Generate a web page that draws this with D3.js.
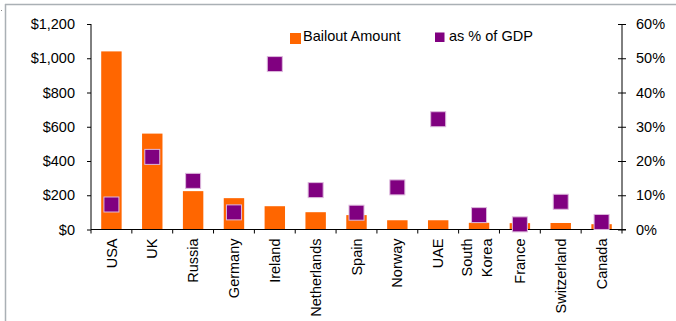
<!DOCTYPE html>
<html>
<head>
<meta charset="utf-8">
<script src="https://cdn.jsdelivr.net/npm/d3@7"></script>
<style>
  html, body { margin: 0; padding: 0; background: #fff; }
  svg { display: block; font-family: "Liberation Sans", Arial, sans-serif; }
</style>
</head>
<body>
<svg id="chart" width="676" height="321"></svg>
<script>
// Bailout packages by country: amount (US$ bn) and size relative to GDP (%)
const categories = ["USA", "UK", "Russia", "Germany", "Ireland", "Netherlands", "Spain",
                    "Norway", "UAE", "South Korea", "France", "Switzerland", "Canada"];
const bailoutAmount = [1040, 560, 224, 183, 136, 101, 84, 54, 54, 39, 37, 38, 31];
const pctOfGdp = [7.3, 21.2, 14.2, 5.0, 48.3, 11.5, 4.9, 12.3, 32.2, 4.2, 1.5, 8.1, 2.2];
const leftTicks = [0, 200, 400, 600, 800, 1000, 1200];
const rightTicks = [0, 10, 20, 30, 40, 50, 60];
const seriesNames = ["Bailout Amount", "as % of GDP"];

const ORANGE = "#FF6600";
const PURPLE = "#800080";

const svg = d3.select("#chart");
const plotLeft = 91, plotRight = 622, plotTop = 24, plotBottom = 229.5;

// outer frame (top and left edges)
svg.append("line").attr("x1", 5).attr("x2", 676).attr("y1", 4.5).attr("y2", 4.5)
  .attr("stroke", "#aab0b5").attr("stroke-width", 1.5);
svg.append("line").attr("x1", 5.5).attr("x2", 5.5).attr("y1", 4).attr("y2", 321)
  .attr("stroke", "#aab0b5").attr("stroke-width", 1.5);
svg.append("rect").attr("x", 1).attr("y", 10).attr("width", 1).attr("height", 1).attr("fill", "#888");

const x = d3.scaleBand().domain(categories).range([plotLeft, plotRight])
  .paddingInner(0.5).paddingOuter(0.25);
const step = x.step();
const yL = d3.scaleLinear().domain([0, 1200]).range([plotBottom, plotTop]);
const yR = d3.scaleLinear().domain([0, 60]).range([plotBottom, plotTop]);

const fontSize = "14.5px";

// left axis
const axL = svg.append("g").attr("transform", `translate(${plotLeft},0)`)
  .call(d3.axisLeft(yL).tickValues(leftTicks).tickSize(4).tickPadding(12)
    .tickFormat(d => "$" + d3.format(",")(d)));
axL.selectAll("text").attr("font-size", fontSize).attr("fill", "#000");
axL.attr("font-family", null).attr("font-size", null);
axL.selectAll("line, path").attr("stroke", "#000");
axL.select(".domain").attr("d", `M0,${plotTop}V${plotBottom}`);

// right axis (ticks cross the line)
const axR = svg.append("g").attr("transform", `translate(${plotRight},0)`)
  .call(d3.axisRight(yR).tickValues(rightTicks).tickSize(4).tickPadding(10)
    .tickFormat(d => d + "%"));
axR.selectAll(".tick line").attr("x1", -4).attr("x2", 4);
axR.selectAll("text").attr("font-size", fontSize).attr("fill", "#000");
axR.attr("font-family", null).attr("font-size", null);
axR.selectAll("line, path").attr("stroke", "#000");
axR.select(".domain").attr("d", `M0,${plotTop}V${plotBottom}`);

// bars
svg.append("g").selectAll("rect").data(categories).join("rect")
  .attr("x", d => x(d))
  .attr("width", x.bandwidth())
  .attr("y", (d, i) => yL(bailoutAmount[i]))
  .attr("height", (d, i) => plotBottom - yL(bailoutAmount[i]))
  .attr("fill", ORANGE);

// category axis with tick marks between categories
const boundaries = d3.range(categories.length + 1).map(i => plotLeft + i * step);
const gx = svg.append("g");
gx.append("line").attr("x1", plotLeft).attr("x2", plotRight + 4).attr("y1", plotBottom).attr("y2", plotBottom)
  .attr("stroke", "#000");
gx.selectAll("line.tk").data(boundaries).join("line").attr("class", "tk")
  .attr("x1", d => d).attr("x2", d => d).attr("y1", plotBottom).attr("y2", plotBottom + 4)
  .attr("stroke", "#000");

// % of GDP markers
const sq = 15;
svg.append("g").selectAll("rect").data(categories).join("rect")
  .attr("x", d => x(d) + x.bandwidth() / 2 - sq / 2)
  .attr("y", (d, i) => yR(pctOfGdp[i]) - sq / 2)
  .attr("width", sq).attr("height", sq)
  .attr("fill", PURPLE)
  .attr("stroke", "#dcb8dc").attr("stroke-width", 1);

// rotated category labels
const labels = svg.append("g").selectAll("text").data(categories).join("text")
  .attr("transform", d => `translate(${x(d) + x.bandwidth() / 2},${plotBottom + 9}) rotate(-90)`)
  .attr("text-anchor", "end")
  .attr("font-size", fontSize)
  .attr("fill", "#000");
labels.each(function (d) {
  const t = d3.select(this);
  const parts = d.split(" ");
  if (parts.length === 1) {
    t.append("tspan").attr("x", 0).attr("dy", "0.35em").text(d);
  } else {
    t.append("tspan").attr("x", 0).attr("y", -12).attr("dy", "0.35em").text(parts[0]);
    t.append("tspan").attr("x", 0).attr("y", 8).attr("dy", "0.35em").text(parts[1]);
  }
});

// legend
const legend = svg.append("g");
legend.append("rect").attr("x", 290).attr("y", 33).attr("width", 11).attr("height", 11).attr("fill", ORANGE);
legend.append("text").attr("x", 303).attr("y", 41).attr("font-size", fontSize).text(seriesNames[0]);
legend.append("rect").attr("x", 435).attr("y", 32.5).attr("width", 9.5).attr("height", 9.5).attr("fill", PURPLE);
legend.append("text").attr("x", 449).attr("y", 41).attr("font-size", fontSize).text(seriesNames[1]);
</script>
</body>
</html>
